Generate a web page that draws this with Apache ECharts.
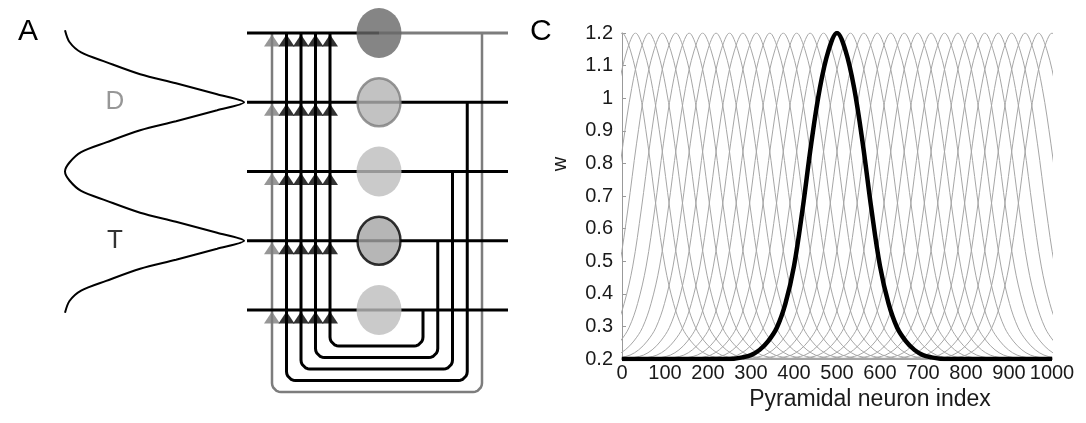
<!DOCTYPE html>
<html>
<head>
<meta charset="utf-8">
<title>Attractor tuning</title>
<script src="https://cdn.jsdelivr.net/npm/echarts@6/dist/echarts.min.js"></script>
<style>
  html, body { margin: 0; padding: 0; background: #fff; }
  #main { width: 1086px; height: 423px; }
</style>
</head>
<body>
<div id="main"></div>
<script>
// ---------- panel C : weight profiles ----------
var xTicks = [0, 100, 200, 300, 400, 500, 600, 700, 800, 900, 1000];
var yTicks = [0.2, 0.3, 0.4, 0.5, 0.6, 0.7, 0.8, 0.9, 1, 1.1, 1.2];

// highlighted (black) profile
var boldIndex = [0, 240, 260, 280, 300, 320, 340, 360, 380, 400, 420, 440, 460, 480, 500,
  520, 540, 560, 580, 600, 620, 640, 660, 680, 700, 720, 740, 760, 1000];
var boldW = [0.2, 0.2, 0.201, 0.205, 0.212, 0.228, 0.255, 0.296, 0.37, 0.485, 0.66, 0.86, 1.03, 1.145, 1.2,
  1.145, 1.03, 0.86, 0.66, 0.485, 0.37, 0.296, 0.255, 0.228, 0.212, 0.205, 0.201, 0.2, 0.2];
var boldCentre = 500;

// peak positions of the grey profiles (one every ~31 neurons)
var greyCentres = [0, 31.25, 62.5, 93.75, 125, 156.25, 187.5, 218.75, 250, 281.25, 312.5, 343.75,
  375, 406.25, 437.5, 468.75, 500, 531.25, 562.5, 593.75, 625, 656.25, 687.5, 718.75, 750,
  781.25, 812.5, 843.75, 875, 906.25, 937.5, 968.75, 1000];

// ---------- panel A : network sketch ----------
var rowNames = ['', 'D', '', 'T', ''];
// input drive along the layer (row position, relative level)
var inputRow = [-0.04, 0.13, 0.28, 0.42, 0.595, 0.725, 0.885, 1.0, 1.115, 1.275, 1.405, 1.58, 1.72, 1.87, 2.0,
  2.13, 2.28, 2.42, 2.595, 2.725, 2.885, 3.0, 3.115, 3.275, 3.405, 3.58, 3.72, 3.87, 4.04];
var inputLevel = [0, 0.025, 0.09, 0.23, 0.42, 0.62, 0.85, 1.0, 0.85, 0.62, 0.42, 0.23, 0.09, 0.025, 0,
  0.025, 0.09, 0.23, 0.42, 0.62, 0.85, 1.0, 0.85, 0.62, 0.42, 0.23, 0.09, 0.025, 0];
// which input column each cell's axon feeds back onto
var feedbackTo = [0, 1, 2, 3, 4];

// layout / style (not data)
var L = {
  rowTop: 33, rowGap: 69.25,
  lineLeft: 247, lineRight: 508,
  cellX: 379,
  colLeft: 272, colGap: 14.5,
  backRight: 482, backGap: 14.75,
  loopBottom: 392, loopGap: 11.5,
  corner: 9,
  curveBase: 65, curveAmp: 179,
  labelX: 115
};
var GREY = '#7d7d7d';
var cellStyle = [
  { color: '#676767', borderWidth: 0 },
  { color: '#b3b3b3', borderColor: GREY, borderWidth: 2.5 },
  { color: '#bdbdbd', borderWidth: 0 },
  { color: '#a4a4a4', borderColor: '#000', borderWidth: 2.5 },
  { color: '#bdbdbd', borderWidth: 0 }
];
var FONT = 'Liberation Sans, Arial, sans-serif';

function rowY(r) { return L.rowTop + L.rowGap * r; }
function colX(c) { return L.colLeft + L.colGap * c; }

function loopPoints(xl, xr, yStart, yBottom, yEnd, r) {
  var pts = [[xl, yStart], [xl, yBottom - r]];
  var k, a;
  for (k = 1; k < 6; k++) {
    a = Math.PI - Math.PI / 2 * k / 6;
    pts.push([xl + r + r * Math.cos(a), yBottom - r + r * Math.sin(a)]);
  }
  pts.push([xl + r, yBottom], [xr - r, yBottom]);
  for (k = 1; k < 6; k++) {
    a = Math.PI / 2 - Math.PI / 2 * k / 6;
    pts.push([xr - r + r * Math.cos(a), yBottom - r + r * Math.sin(a)]);
  }
  pts.push([xr, yBottom - r], [xr, yEnd]);
  return pts;
}

var series = [];
function wire(data, color, width, z) {
  series.push({
    type: 'line', xAxisIndex: 0, yAxisIndex: 0, data: data,
    showSymbol: false, silent: true, z: z,
    lineStyle: { color: color, width: width, cap: 'butt', join: 'round' }
  });
}

// input profile
series.push({
  type: 'line', xAxisIndex: 0, yAxisIndex: 0, showSymbol: false, silent: true, smooth: 0.3, z: 2,
  lineStyle: { color: '#000', width: 2 },
  data: inputRow.map(function (r, i) { return [L.curveBase + inputLevel[i] * L.curveAmp, rowY(r)]; })
});

// feedback axons
feedbackTo.forEach(function (c, i) {
  wire(loopPoints(colX(c), L.backRight - L.backGap * i, rowY(0), L.loopBottom - L.loopGap * i, rowY(i), L.corner),
    c === 0 ? GREY : '#000', c === 0 ? 2.5 : 3, 2);
});

// layer rows
rowNames.forEach(function (n, i) {
  wire([[L.lineLeft, rowY(i)], [L.cellX, rowY(i)]], '#000', 3, 3);
  wire([[L.cellX, rowY(i)], [L.lineRight, rowY(i)]], i === 0 ? GREY : '#000', 3, 3);
});

// synapse arrowheads
var arrows = [];
rowNames.forEach(function (n, i) {
  feedbackTo.forEach(function (c) {
    arrows.push({ value: [colX(c), rowY(i) + 7.5], itemStyle: { color: c === 0 ? GREY : '#000' } });
  });
});
series.push({
  type: 'scatter', xAxisIndex: 0, yAxisIndex: 0, silent: true, z: 4,
  symbol: 'triangle', symbolSize: [16, 12], data: arrows
});

// cells
series.push({
  type: 'scatter', xAxisIndex: 0, yAxisIndex: 0, silent: true, z: 5,
  symbol: 'path://M0,1A1,1,0,1,1,2,1A1,1,0,1,1,0,1Z',
  data: rowNames.map(function (n, i) {
    var s = cellStyle[i];
    return {
      value: [L.cellX, rowY(i)],
      symbolSize: s.borderWidth ? [43, 48] : [45, 50],
      itemStyle: s
    };
  })
});

// row labels
series.push({
  type: 'scatter', xAxisIndex: 0, yAxisIndex: 0, silent: true, z: 5, symbolSize: 0,
  data: rowNames.map(function (n, i) {
    return { value: [L.labelX, rowY(i)], name: n, label: { color: n === 'D' ? GREY : '#000' } };
  }),
  label: {
    show: true, position: 'inside', fontFamily: FONT, fontSize: 26,
    formatter: function (p) { return p.name; }
  }
});

// ---- panel C series ----
greyCentres.forEach(function (c) {
  var pts = boldIndex.map(function (x, j) { return [x - boldCentre + c, boldW[j]]; });
  if (pts[0][0] > xTicks[0]) pts.unshift([xTicks[0], yTicks[0]]);
  if (pts[pts.length - 1][0] < xTicks[xTicks.length - 1]) pts.push([xTicks[xTicks.length - 1], yTicks[0]]);
  series.push({
    type: 'line', xAxisIndex: 1, yAxisIndex: 1, data: pts, smooth: 0.35,
    showSymbol: false, silent: true, z: 2,
    lineStyle: { color: '#a6a6a6', width: 1 }
  });
});
series.push({
  type: 'line', xAxisIndex: 1, yAxisIndex: 1, smooth: 0.35, showSymbol: false, silent: true, z: 3,
  data: boldIndex.map(function (x, j) { return [x, boldW[j]]; }),
  lineStyle: { color: '#000', width: 4.5 }
});

var chart = echarts.init(document.getElementById('main'));
chart.setOption({
  backgroundColor: '#fff',
  animation: false,
  textStyle: { fontFamily: FONT },
  title: [
    { text: 'A', left: 18, top: 17, padding: 0, textStyle: { fontFamily: FONT, fontSize: 30, fontWeight: 'normal', color: '#000' } },
    { text: 'C', left: 530, top: 17, padding: 0, textStyle: { fontFamily: FONT, fontSize: 30, fontWeight: 'normal', color: '#000' } }
  ],
  grid: [
    { left: 0, top: 0, width: 540, height: 423 },
    { left: 622, right: 34, top: 33, bottom: 64 }
  ],
  xAxis: [
    { gridIndex: 0, type: 'value', min: 0, max: 540, show: false },
    {
      gridIndex: 1, type: 'value',
      min: xTicks[0], max: xTicks[xTicks.length - 1], interval: xTicks[1] - xTicks[0],
      name: 'Pyramidal neuron index', nameLocation: 'middle', nameGap: 26,
      nameTextStyle: { fontFamily: FONT, fontSize: 23, color: '#1a1a1a', padding: [0, 0, 0, 66] },
      axisLine: { lineStyle: { color: '#999', width: 1 } },
      axisTick: { show: false },
      axisLabel: {
        fontFamily: FONT, fontSize: 20, color: '#1a1a1a', margin: 4,
        formatter: function (v) { return String(v); }
      },
      splitLine: { show: false }
    }
  ],
  yAxis: [
    { gridIndex: 0, type: 'value', min: 0, max: 423, inverse: true, show: false },
    {
      gridIndex: 1, type: 'value',
      min: yTicks[0], max: yTicks[yTicks.length - 1], interval: 0.1,
      name: 'w', nameLocation: 'middle', nameGap: 52,
      nameTextStyle: { fontFamily: FONT, fontSize: 20, color: '#1a1a1a', padding: [0, 0, 0, 64] },
      axisLine: { show: true, lineStyle: { color: '#999', width: 1 } },
      axisTick: { show: true, inside: true, length: 4, lineStyle: { color: '#999' } },
      axisLabel: { fontFamily: FONT, fontSize: 20, color: '#1a1a1a', margin: 9 },
      splitLine: { show: false }
    }
  ],
  series: series
});
window.addEventListener('resize', function () { chart.resize(); });
</script>
</body>
</html>
